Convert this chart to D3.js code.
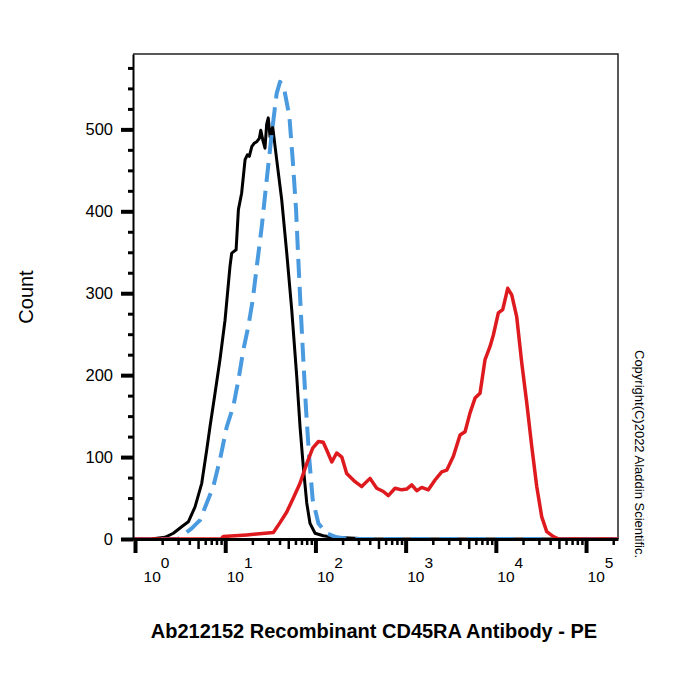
<!DOCTYPE html>
<html><head><meta charset="utf-8">
<script src="https://cdn.jsdelivr.net/npm/d3@7"></script>
<style>body{margin:0;background:#fff} text{font-family:'Liberation Sans',Arial,sans-serif;fill:#000}</style>
</head><body>
<svg id="c" width="700" height="700"></svg>
<script>
// ---- data (intensity, count) ----
const isotypeSeries = [[0.95,0],[1.5,0],[2.15,2],[2.66,7],[3.29,15],[3.90,21],[4.62,39],[5.49,68],[6.24,109],[6.78,137],[7.71,178],[8.75,219],[9.95,267],[11.3,333],[11.8,349],[13.2,353],[14.0,402],[15.2,422],[16.6,463],[17.6,469],[18.5,467],[19.7,479],[20.9,483],[22.4,485],[23.9,489],[24.8,499],[26.1,487],[27.6,477],[28.8,506],[30.0,514],[31.4,491],[33.6,503],[37.2,463],[42.3,414],[48.1,349],[54.6,280],[62.1,198],[67.5,137],[73.4,88],[80.1,44],[87.1,19],[99.0,7],[122,4],[160,2],[275,1],[400,0],[226000,0]];
const controlSeries = [[0.95,0],[3.0,0],[3.43,5],[4.25,13],[5.26,23],[6.24,44],[7.38,64],[8.75,97],[10.4,137],[12.3,162],[14.0,194],[15.9,231],[18.0,259],[20.2,292],[22.4,333],[25.4,381],[28.8,438],[32.8,495],[37.2,544],[40.5,558],[44.9,550],[51.4,516],[56.0,463],[61.0,402],[64.6,341],[68.7,280],[73.4,219],[78.7,158],[85.6,97],[93.3,48],[108,19],[133,7],[172,2],[250,0],[226000,0]];
const cd45raSeries = [[0.95,0],[9.0,0],[9.53,3],[17.3,5],[34.2,8],[40.5,20],[48.1,33],[56.9,50],[67.5,68],[80.1,92],[93.3,111],[108,119],[122,118],[133,109],[152,94],[172,105],[196,100],[222,80],[275,70],[326,64],[403,74],[478,62],[566,58],[643,53],[763,62],[905,60],[1028,61],[1169,66],[1327,59],[1508,63],[1786,60],[2118,72],[2512,82],[2855,84],[3381,101],[4010,127],[4557,131],[5176,154],[5881,172],[6680,178],[7590,219],[8623,235],[9384,249],[10660,276],[11920,280],[13540,306],[15000,298],[17040,271],[19370,215],[22020,166],[25000,113],[28400,64],[32270,27],[36660,9],[43450,3],[50000,0],[226000,0]];

const xMajorTicks = [1,10,100,1000,10000,100000];
const yMajorTicks = [0,100,200,300,400,500];
const yMinorTicks = [25,50,75,125,150,175,225,250,275,325,350,375,425,450,475,525,550,575];
const xTitle = "Ab212152 Recombinant CD45RA Antibody - PE";
const yTitle = "Count";
const copyright = "Copyright(C)2022 Aladdin Scientific.";

// ---- layout ----
const svg = d3.select("#c");
const x = d3.scaleLog().domain([0.95, 226000]).range([133, 618]);
const y = d3.scaleLinear().domain([0, 592]).range([539, 54]);

const xMinorTicks = [];
xMajorTicks.forEach(m => { for (let k = 2; k <= 9; k++) { const v = m * k; if (v <= 226000) xMinorTicks.push(v); } });

// frame top/right
svg.append("path").attr("d", `M133,${y(592)}H${x(226000)}V${y(0)}`)
  .attr("fill","none").attr("stroke","#222").attr("stroke-width",1.5);

// lines
const line = d3.line().x(d => x(d[0])).y(d => y(d[1]));
const plot = svg.append("g").attr("fill","none").attr("stroke-linejoin","round");
plot.append("path").datum(isotypeSeries).attr("d", line).attr("stroke","#000").attr("stroke-width",3);
plot.append("path").datum(controlSeries).attr("d", line).attr("stroke","#4a9ae0").attr("stroke-width",4).attr("stroke-dasharray","19,9");
plot.append("path").datum(cd45raSeries).attr("d", line).attr("stroke","#de1a1f").attr("stroke-width",3.5);

// y axis
const gy = svg.append("g").attr("transform","translate(133,0)");
gy.call(d3.axisLeft(y).tickValues(yMinorTicks).tickSize(5).tickFormat("").tickSizeOuter(0));
gy.selectAll(".tick line").attr("stroke-width",3);
gy.select(".domain").remove();
const gy2 = svg.append("g").attr("transform","translate(133,0)");
gy2.call(d3.axisLeft(y).tickValues(yMajorTicks).tickSize(12).tickPadding(8).tickSizeOuter(0).tickFormat(d3.format("d")));
gy2.selectAll(".tick line").attr("stroke-width",4);
gy2.select(".domain").attr("stroke-width",2);
gy2.selectAll(".tick text").attr("font-size",16.5).style("font-family","'Liberation Sans',Arial,sans-serif");

// x axis
const gx = svg.append("g").attr("transform","translate(0,539)");
gx.call(d3.axisBottom(x).tickValues(xMinorTicks).tickSize(6).tickFormat("").tickSizeOuter(0));
gx.selectAll(".tick line").attr("stroke-width",2.5).attr("y2", d => (String(d)[0] === "5") ? 10 : 6);
gx.select(".domain").remove();
const gx2 = svg.append("g").attr("transform","translate(0,539)");
gx2.call(d3.axisBottom(x).tickValues(xMajorTicks).tickSize(14).tickSizeOuter(0).tickFormat(""));
gx2.selectAll(".tick line").attr("stroke-width",4);
gx2.select(".domain").attr("stroke-width",3);
gx2.selectAll(".tick text").each(function(d, i) {
  const t = d3.select(this);
  t.text(null).attr("text-anchor","start").attr("x", i === 0 ? 8 : 1).attr("y", 43).attr("dy", 0)
   .attr("font-size", 15.5).style("font-family","'Liberation Sans',Arial,sans-serif");
  t.append("tspan").text("10");
  t.append("tspan").attr("dy", -14).text(Math.round(Math.log10(d)));
});

// titles
svg.append("text").attr("x", 374).attr("y", 638).attr("text-anchor","middle")
  .attr("font-size", 20).attr("font-weight","bold").text(xTitle);
svg.append("text").attr("transform","translate(33,297) rotate(-90)").attr("text-anchor","middle")
  .attr("font-size", 20).text(yTitle);
svg.append("text").attr("transform","translate(635,350) rotate(90)")
  .attr("font-size", 13).text(copyright);
</script>
</body></html>
